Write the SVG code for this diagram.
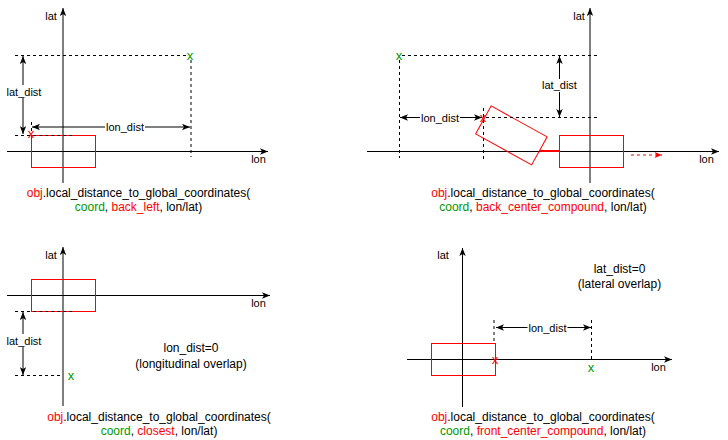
<svg xmlns="http://www.w3.org/2000/svg" width="728" height="440" viewBox="0 0 728 440">
<style>
  text { font-family: "Liberation Sans", Arial, sans-serif; fill: #000; }
  .ax { stroke: #000; stroke-width: 1; fill: none; }
  .dash { stroke: #000; stroke-width: 1; stroke-dasharray: 3 3; fill: none; }
  .dim { stroke: #000; stroke-width: 1; fill: none; marker-start: url(#arr); marker-end: url(#arr); }
  .lbl { font-size: 11px; text-anchor: middle; }
  .cap { font-size: 12px; text-anchor: middle; }
  .pt { font-size: 13px; text-anchor: middle; }
  .r { fill: #ff0000; }
  .g { fill: #009900; }
  .bg { fill: #fff; stroke: none; }
</style>
<defs>
  <marker id="arr" viewBox="0 0 10 8" refX="10" refY="4" markerWidth="8" markerHeight="6.5" markerUnits="userSpaceOnUse" orient="auto-start-reverse">
    <path d="M0,0 L10,4 L0,8 L2.5,4 Z" fill="#000"/>
  </marker>
  <marker id="arrR" viewBox="0 0 10 8" refX="10" refY="4" markerWidth="8" markerHeight="6" markerUnits="userSpaceOnUse" orient="auto">
    <path d="M0,0 L10,4 L0,8 L2.5,4 Z" fill="#ff0000"/>
  </marker>
</defs>

<!-- Panel 1: back_left -->
<g id="panel1">
  <g id="p1-axes">
    <line class="ax" x1="63" y1="183" x2="63" y2="8" marker-end="url(#arr)"/>
    <line class="ax" x1="7" y1="151.5" x2="268" y2="151.5" marker-end="url(#arr)"/>
    <text class="lbl" x="51" y="20">lat</text>
    <text class="lbl" x="258.5" y="163">lon</text>
  </g>
  <g id="p1-object"><rect x="31.5" y="135.5" width="64" height="32" fill="none" stroke="#ff0000" style="stroke:#ff0000"/></g>
  <g id="p1-connectors">
    <line class="dash" x1="15" y1="55.5" x2="187" y2="55.5"/>
    <line class="dash" x1="191" y1="60" x2="191" y2="157"/>
    <line class="dash" x1="15" y1="135.5" x2="72" y2="135.5"/>
    <line class="dash" x1="31.5" y1="122" x2="31.5" y2="131"/>
    <line class="dim" x1="23" y1="56" x2="23" y2="134"/>
    <line class="dim" x1="32" y1="127" x2="190" y2="127"/>
  </g>
  <g id="p1-labels">
    <rect class="bg" x="6" y="85" width="36" height="13"/>
    <text class="lbl" x="24" y="95.5">lat_dist</text>
    <rect class="bg" x="105" y="121" width="40" height="12"/>
    <text class="lbl" x="125" y="131">lon_dist</text>
  </g>
  <g id="p1-points">
    <text class="pt r" x="31" y="138">x</text>
    <text class="pt g" x="190" y="60">x</text>
  </g>
  <g id="p1-caption">
    <text class="cap" x="138.5" y="197"><tspan class="r">obj</tspan>.local_distance_to_global_coordinates(</text>
    <text class="cap" x="138.5" y="211"><tspan class="g">coord</tspan>, <tspan class="r">back_left</tspan>, lon/lat)</text>
  </g>
</g>

<!-- Panel 2: back_center_compound -->
<g id="panel2">
  <g id="p2-axes">
    <line class="ax" x1="590" y1="183" x2="590" y2="8" marker-end="url(#arr)"/>
    <line class="ax" x1="367" y1="151.5" x2="719" y2="151.5" marker-end="url(#arr)"/>
    <text class="lbl" x="579" y="20">lat</text>
    <text class="lbl" x="706.5" y="163">lon</text>
  </g>
  <g id="p2-object">
    <rect x="559.5" y="135.5" width="64" height="32" fill="none" stroke="#ff0000" style="stroke:#ff0000"/>
    <rect x="-32" y="-16" width="64" height="32" fill="none" stroke="#ff0000" transform="translate(511.4,135.4) rotate(29)"/>
    <line x1="540" y1="151" x2="559.5" y2="151" stroke="#ff0000" stroke-width="2"/>
    <line x1="631" y1="155" x2="662" y2="155" stroke="#ff0000" stroke-width="1" stroke-dasharray="3 3" marker-end="url(#arrR)"/>
  </g>
  <g id="p2-connectors">
    <line class="dash" x1="402" y1="55.5" x2="597" y2="55.5"/>
    <line class="dash" x1="399.5" y1="60" x2="399.5" y2="158"/>
    <line class="dash" x1="486" y1="117.5" x2="597" y2="117.5"/>
    <line class="dash" x1="483.5" y1="108" x2="483.5" y2="160"/>
    <line class="dim" x1="559.5" y1="56" x2="559.5" y2="117"/>
    <line class="dim" x1="400" y1="117.5" x2="482" y2="117.5"/>
  </g>
  <g id="p2-labels">
    <rect class="bg" x="541" y="79" width="37" height="13"/>
    <text class="lbl" x="559.5" y="89">lat_dist</text>
    <rect class="bg" x="420" y="111" width="40" height="12"/>
    <text class="lbl" x="440" y="121.5">lon_dist</text>
  </g>
  <g id="p2-points">
    <text class="pt g" x="399" y="60">x</text>
    <text class="pt r" x="483" y="121.5">x</text>
  </g>
  <g id="p2-caption">
    <text class="cap" x="543" y="197"><tspan class="r">obj</tspan>.local_distance_to_global_coordinates(</text>
    <text class="cap" x="543" y="211"><tspan class="g">coord</tspan>, <tspan class="r">back_center_compound</tspan>, lon/lat)</text>
  </g>
</g>

<!-- Panel 3: closest -->
<g id="panel3">
  <g id="p3-axes">
    <line class="ax" x1="63" y1="406" x2="63" y2="247" marker-end="url(#arr)"/>
    <line class="ax" x1="7" y1="295.5" x2="270" y2="295.5" marker-end="url(#arr)"/>
    <text class="lbl" x="51" y="259">lat</text>
    <text class="lbl" x="258.5" y="306.5">lon</text>
  </g>
  <g id="p3-object"><rect x="31.5" y="279.5" width="64" height="32" fill="none" stroke="#ff0000" style="stroke:#ff0000"/></g>
  <g id="p3-connectors">
    <line class="dash" x1="15" y1="311.5" x2="72" y2="311.5"/>
    <line class="dash" x1="15" y1="375.5" x2="63" y2="375.5"/>
    <line class="dim" x1="23" y1="312" x2="23" y2="375"/>
  </g>
  <g id="p3-labels">
    <rect class="bg" x="6" y="334" width="36" height="13"/>
    <text class="lbl" x="24" y="345">lat_dist</text>
    <text class="cap" x="191" y="352">lon_dist=0</text>
    <text class="cap" x="191" y="368">(longitudinal overlap)</text>
  </g>
  <g id="p3-points">
    <text class="pt g" x="71" y="380">x</text>
  </g>
  <g id="p3-caption">
    <text class="cap" x="159" y="421"><tspan class="r">obj</tspan>.local_distance_to_global_coordinates(</text>
    <text class="cap" x="159" y="435"><tspan class="g">coord</tspan>, <tspan class="r">closest</tspan>, lon/lat)</text>
  </g>
</g>

<!-- Panel 4: front_center_compound -->
<g id="panel4">
  <g id="p4-axes">
    <line class="ax" x1="462.5" y1="407" x2="462.5" y2="248" marker-end="url(#arr)"/>
    <line class="ax" x1="407" y1="359.5" x2="672" y2="359.5" marker-end="url(#arr)"/>
    <text class="lbl" x="443" y="259">lat</text>
    <text class="lbl" x="658.5" y="371">lon</text>
  </g>
  <g id="p4-object"><rect x="431.5" y="343.5" width="64" height="32" fill="none" stroke="#ff0000" style="stroke:#ff0000"/></g>
  <g id="p4-connectors">
    <line class="dash" x1="494" y1="320" x2="494" y2="343"/>
    <line class="dash" x1="591.5" y1="320" x2="591.5" y2="362"/>
    <line class="dim" x1="496" y1="327.5" x2="591" y2="327.5"/>
  </g>
  <g id="p4-labels">
    <rect class="bg" x="527.5" y="321" width="40" height="12"/>
    <text class="lbl" x="547.5" y="331.5">lon_dist</text>
    <text class="cap" x="619.5" y="272.5">lat_dist=0</text>
    <text class="cap" x="619.5" y="287.5">(lateral overlap)</text>
  </g>
  <g id="p4-points">
    <text class="pt r" x="495" y="364">x</text>
    <text class="pt g" x="591" y="372">x</text>
  </g>
  <g id="p4-caption">
    <text class="cap" x="543" y="421"><tspan class="r">obj</tspan>.local_distance_to_global_coordinates(</text>
    <text class="cap" x="543" y="435"><tspan class="g">coord</tspan>, <tspan class="r">front_center_compound</tspan>, lon/lat)</text>
  </g>
</g>
</svg>
